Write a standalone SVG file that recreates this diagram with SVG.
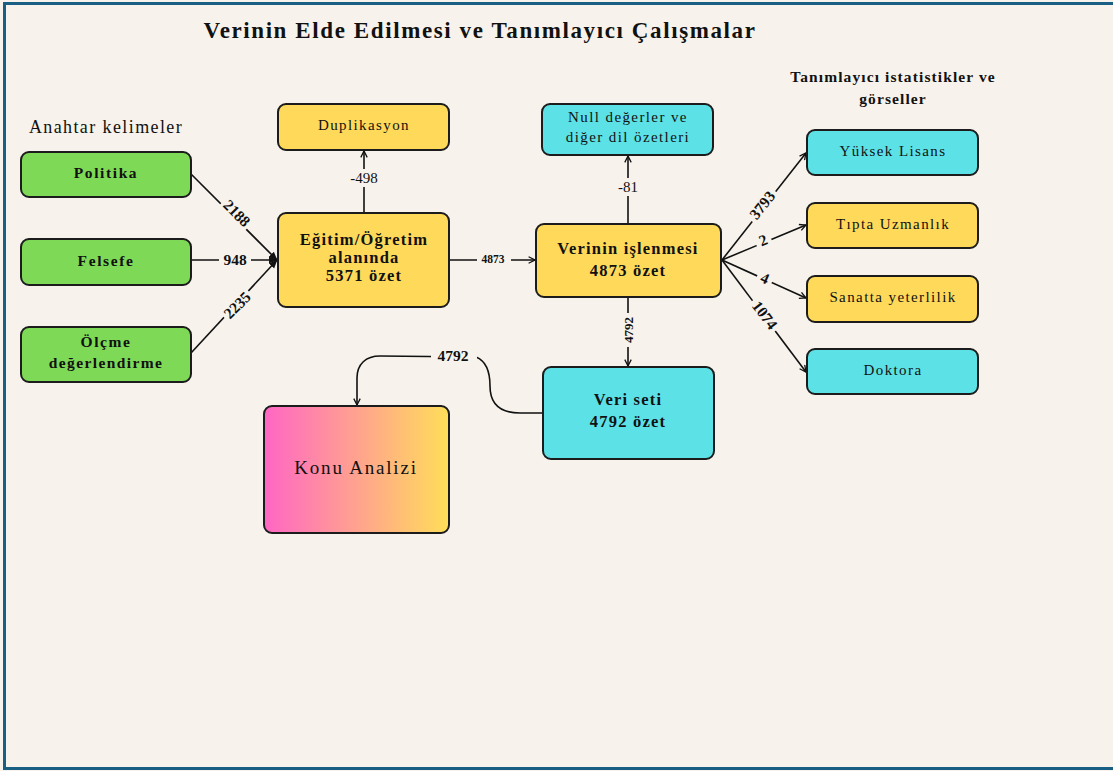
<svg xmlns="http://www.w3.org/2000/svg" width="1113" height="771" viewBox="0 0 1113 771">
<defs>
<style>
.node{stroke:#1c1c1c;stroke-width:2}
.g{fill:#7ed957}.y{fill:#ffd95a}.c{fill:#5ce1e6}
.t{font-family:"Liberation Serif","DejaVu Serif",serif;fill:#111;text-anchor:middle}
.b{font-weight:bold}
.conn{fill:none;stroke:#111;stroke-width:1.6}
.lbl{font-family:"Liberation Serif","DejaVu Serif",serif;fill:#111;text-anchor:middle;dominant-baseline:central}
.gap{fill:#f7f3ec}
</style>
<marker id="ar" viewBox="0 0 10 10" refX="9" refY="5" markerWidth="8" markerHeight="8" orient="auto" markerUnits="userSpaceOnUse">
<path d="M1,1 L9,5 L1,9" fill="none" stroke="#111" stroke-width="1.6"/>
</marker>
<marker id="arf" viewBox="0 0 10 10" refX="9" refY="5" markerWidth="9" markerHeight="9" orient="auto" markerUnits="userSpaceOnUse">
<path d="M0,1 L10,5 L0,9 z" fill="#111"/>
</marker>
<linearGradient id="grad" x1="0" y1="0" x2="1" y2="0">
<stop offset="0" stop-color="#ff66c4"/>
<stop offset="1" stop-color="#ffde59"/>
</linearGradient>
</defs>
<rect x="0" y="0" width="1113" height="771" fill="#f7f3ec"/>
<rect x="4.5" y="3.5" width="1120" height="765" fill="none" stroke="#195e83" stroke-width="3"/>

<g id="titles">
<text class="t b" x="480" y="38" font-size="23" letter-spacing="1.6">Verinin Elde Edilmesi ve Tanımlayıcı Çalışmalar</text>
<text class="t" x="106" y="133" font-size="18" letter-spacing="1.4">Anahtar kelimeler</text>
<text class="t b" x="893" y="82" font-size="15.5" letter-spacing="1.1">Tanımlayıcı istatistikler ve</text>
<text class="t b" x="893" y="104" font-size="15.5" letter-spacing="1.1">görseller</text>
</g>

<g id="connectors">
<line class="conn" x1="191" y1="174" x2="277" y2="260" marker-end="url(#arf)"/>
<line class="conn" x1="191" y1="260" x2="277" y2="260" marker-end="url(#arf)"/>
<line class="conn" x1="191" y1="353" x2="277" y2="260" marker-end="url(#arf)"/>
<line class="conn" x1="364" y1="213" x2="364" y2="151" marker-end="url(#ar)"/>
<line class="conn" x1="449" y1="260" x2="535" y2="260" marker-end="url(#ar)"/>
<line class="conn" x1="628" y1="224" x2="628" y2="156" marker-end="url(#ar)"/>
<line class="conn" x1="628" y1="297" x2="628" y2="366" marker-end="url(#ar)"/>
<line class="conn" x1="722" y1="260" x2="806" y2="153" marker-end="url(#ar)"/>
<line class="conn" x1="722" y1="260" x2="806" y2="225" marker-end="url(#ar)"/>
<line class="conn" x1="722" y1="260" x2="806" y2="298" marker-end="url(#ar)"/>
<line class="conn" x1="722" y1="260" x2="806" y2="372" marker-end="url(#ar)"/>
<path class="conn" d="M543,413 L520,413 C496,413 490,400 490,386 C490,372 486,361 476,357 L380,356 C366,356 357,364 357,378 L357,405" marker-end="url(#ar)"/>

<rect class="gap" x="219" y="195" width="36" height="36" transform="rotate(45 237 213)" />
<text class="lbl b" x="237" y="213" font-size="15.5" transform="rotate(45 237 213)">2188</text>
<rect class="gap" x="219" y="250" width="32" height="20"/>
<text class="lbl b" x="235" y="259" font-size="15.5">948</text>
<rect class="gap" x="219" y="296" width="36" height="18" transform="rotate(-45 237 305)"/>
<text class="lbl b" x="237" y="305" font-size="15.5" transform="rotate(-45 237 305)">2235</text>
<rect class="gap" x="345" y="169" width="38" height="18"/>
<text class="lbl" x="364" y="178" font-size="15" fill="#333">-498</text>
<rect class="gap" x="477" y="251" width="34" height="16"/>
<text class="lbl b" x="493" y="259" font-size="11.5">4873</text>
<rect class="gap" x="613" y="178" width="30" height="18"/>
<text class="lbl" x="628" y="187" font-size="15" fill="#333">-81</text>
<rect class="gap" x="611" y="321" width="34" height="18" transform="rotate(-90 628 330)"/>
<text class="lbl b" x="628" y="330" font-size="13" transform="rotate(-90 628 330)">4792</text>
<rect class="gap" x="743" y="196" width="38" height="18" transform="rotate(-51.5 762 205)"/>
<text class="lbl b" x="762" y="205" font-size="15.5" transform="rotate(-51.5 762 205)">3793</text>
<rect class="gap" x="755" y="231" width="16" height="18" transform="rotate(-22 763 240)"/>
<text class="lbl b" x="763" y="240" font-size="15.5" transform="rotate(-22 763 240)">2</text>
<rect class="gap" x="757" y="269" width="16" height="18" transform="rotate(24 765 278)"/>
<text class="lbl b" x="765" y="278" font-size="15.5" transform="rotate(24 765 278)">4</text>
<rect class="gap" x="746" y="306" width="38" height="18" transform="rotate(53 765 315)"/>
<text class="lbl b" x="765" y="315" font-size="15.5" transform="rotate(53 765 315)">1074</text>
<rect class="gap" x="431" y="346" width="46" height="20"/>
<text class="lbl b" x="453" y="355" font-size="15.5">4792</text>
</g>

<g id="politika">
<rect class="node g" x="21" y="152" width="170" height="45" rx="8"/>
<text class="t b" x="106" y="178" font-size="15.5" letter-spacing="1.6">Politika</text>
</g>
<g id="felsefe">
<rect class="node g" x="21" y="239" width="170" height="46" rx="8"/>
<text class="t b" x="106" y="266" font-size="15.5" letter-spacing="1.6">Felsefe</text>
</g>
<g id="olcme">
<rect class="node g" x="21" y="327" width="170" height="55" rx="8"/>
<text class="t b" x="106" y="347" font-size="15.5" letter-spacing="1.6">Ölçme</text>
<text class="t b" x="106" y="368" font-size="15.5" letter-spacing="1.4">değerlendirme</text>
</g>
<g id="egitim">
<rect class="node y" x="278" y="213" width="171" height="94" rx="8"/>
<text class="t b" x="364" y="245" font-size="16.5" letter-spacing="1.2">Eğitim/Öğretim</text>
<text class="t b" x="364" y="263" font-size="16.5" letter-spacing="1.2">alanında</text>
<text class="t b" x="364" y="281" font-size="16.5" letter-spacing="1.2">5371 özet</text>
</g>
<g id="duplikasyon">
<rect class="node y" x="278" y="104" width="171" height="46" rx="8"/>
<text class="t" x="364" y="130" font-size="15" letter-spacing="1.4">Duplikasyon</text>
</g>
<g id="null">
<rect class="node c" x="542" y="104" width="171" height="51" rx="8"/>
<text class="t" x="628" y="122" font-size="15" letter-spacing="1.4">Null değerler ve</text>
<text class="t" x="628" y="142" font-size="15" letter-spacing="1.4">diğer dil özetleri</text>
</g>
<g id="islenme">
<rect class="node y" x="536" y="224" width="185" height="73" rx="8"/>
<text class="t b" x="628" y="254" font-size="16.5" letter-spacing="1.2">Verinin işlenmesi</text>
<text class="t b" x="628" y="276" font-size="16.5" letter-spacing="1.2">4873 özet</text>
</g>
<g id="yuksek">
<rect class="node c" x="807" y="130" width="171" height="45" rx="8"/>
<text class="t" x="893" y="156" font-size="15" letter-spacing="1.4">Yüksek Lisans</text>
</g>
<g id="tipta">
<rect class="node y" x="807" y="203" width="171" height="45" rx="8"/>
<text class="t" x="893" y="229" font-size="15" letter-spacing="1.4">Tıpta Uzmanlık</text>
</g>
<g id="sanatta">
<rect class="node y" x="807" y="276" width="171" height="46" rx="8"/>
<text class="t" x="893" y="302" font-size="15" letter-spacing="1.4">Sanatta yeterlilik</text>
</g>
<g id="doktora">
<rect class="node c" x="807" y="349" width="171" height="45" rx="8"/>
<text class="t" x="893" y="375" font-size="15" letter-spacing="1.4">Doktora</text>
</g>
<g id="veriseti">
<rect class="node c" x="543" y="367" width="171" height="92" rx="8"/>
<text class="t b" x="628" y="405" font-size="16.5" letter-spacing="1.2">Veri seti</text>
<text class="t b" x="628" y="427" font-size="16.5" letter-spacing="1.2">4792 özet</text>
</g>
<g id="konu">
<rect class="node" fill="url(#grad)" x="264" y="406" width="185" height="127" rx="8"/>
<text class="t" x="356" y="474" font-size="19" letter-spacing="1.8">Konu Analizi</text>
</g>
</svg>
